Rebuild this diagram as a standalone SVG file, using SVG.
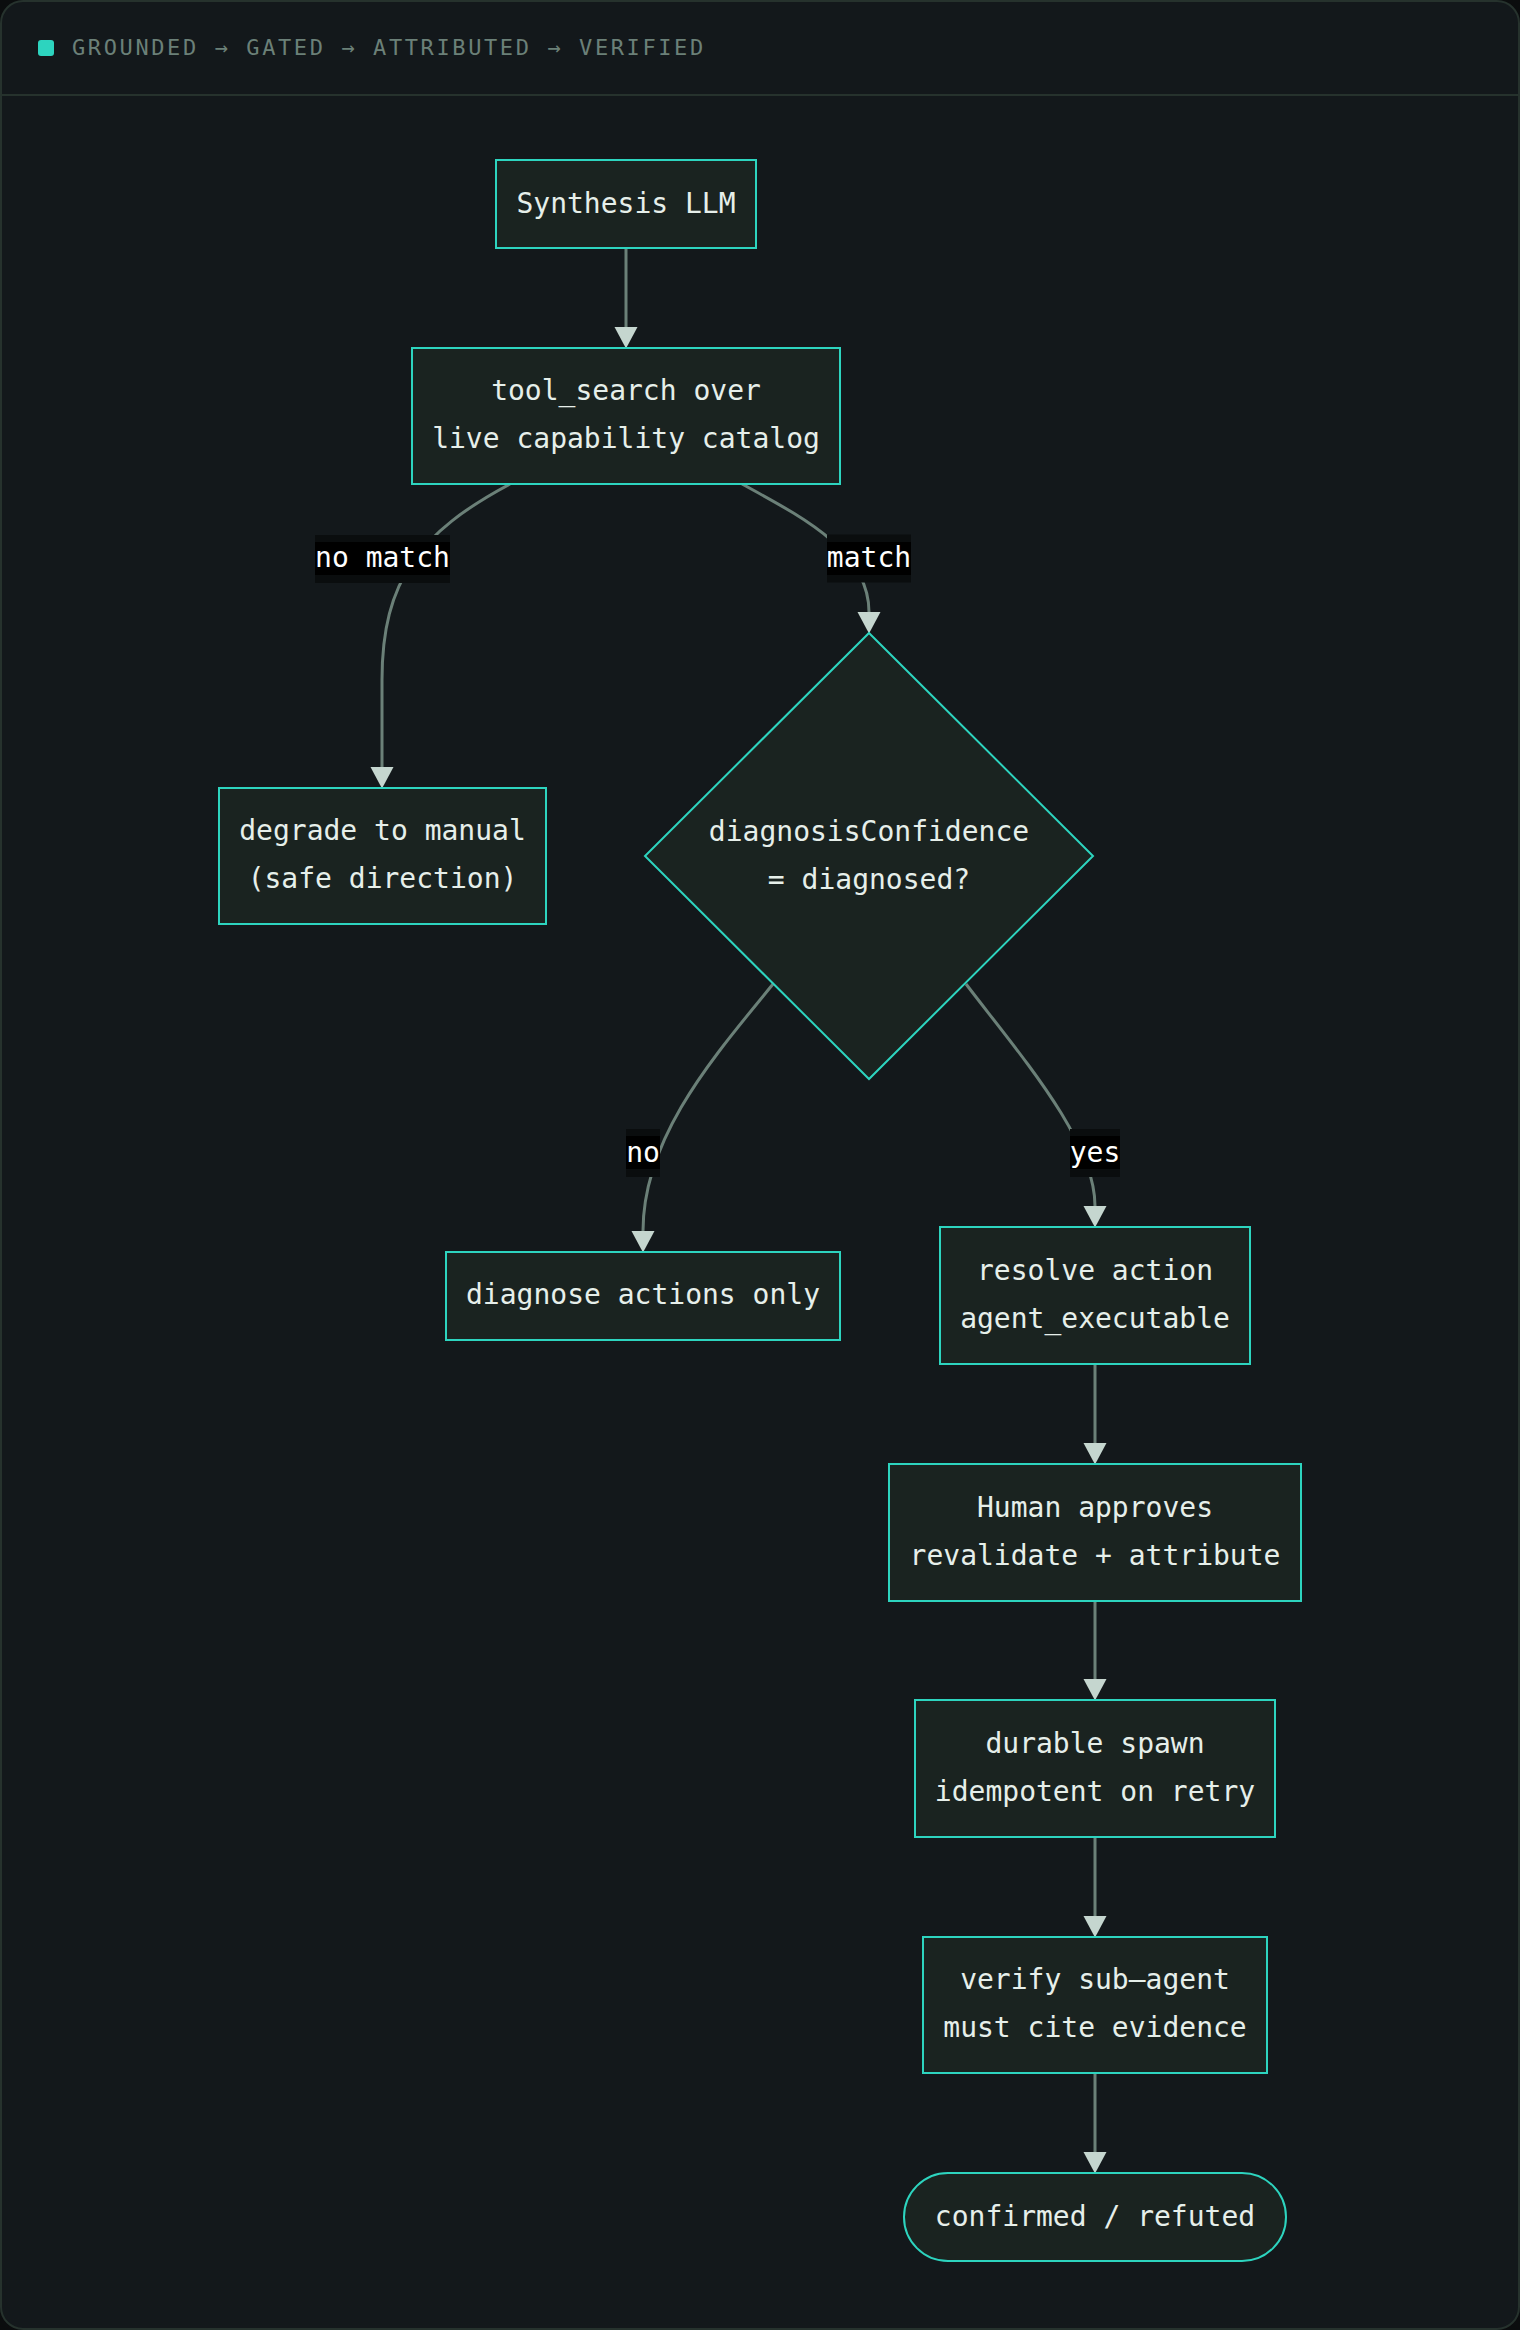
<svg xmlns="http://www.w3.org/2000/svg" width="1520" height="2330" viewBox="0 0 1520 2330">
  <style>
    .node { fill: #1a2320; stroke: #2dd4bf; stroke-width: 2; }
    .ntext { font-family: "DejaVu Sans Mono", "Liberation Mono", monospace; font-size: 28px; fill: #e6efea; text-anchor: middle; }
    .edge { fill: none; stroke: #6b8078; stroke-width: 3; }
    .lbg { fill: #0a0d0e; }
    .lin { fill: #000000; }
    .ltext { font-family: "DejaVu Sans Mono", "Liberation Mono", monospace; font-size: 28px; fill: #ffffff; text-anchor: middle; }
    .hdr { font-family: "DejaVu Sans Mono", "Liberation Mono", monospace; font-size: 22px; fill: #6b8078; letter-spacing: 2.6px; }
  </style>
  <defs>
    <marker id="arrow" markerUnits="userSpaceOnUse" markerWidth="22" markerHeight="24" refX="0" refY="12" orient="auto" viewBox="0 0 22 24">
      <path d="M0,0.5 L21.5,12 L0,23.5 Z" fill="#c5d6cf"/>
    </marker>
  </defs>

  <rect x="0" y="0" width="1520" height="2330" fill="#0b0d0e"/>
  <rect x="1" y="1" width="1518" height="2328" rx="22" fill="#13181b" stroke="#26322d" stroke-width="2"/>
  <line x1="1" y1="95" x2="1519" y2="95" stroke="#26322d" stroke-width="2"/>
  <g id="header">
    <rect x="38" y="40" width="16" height="16" rx="3" fill="#2dd4bf"/>
    <text class="hdr" x="72" y="55">GROUNDED → GATED → ATTRIBUTED → VERIFIED</text>
  </g>

  <g id="connectors">
    <path class="edge" d="M626,248 L626,327" marker-end="url(#arrow)"/>
    <path class="edge" d="M510,484 C420,532 382,580 382,680 L382,767" marker-end="url(#arrow)"/>
    <path class="edge" d="M742,484 C800,516 869,550 869,612" marker-end="url(#arrow)"/>
    <path class="edge" d="M773,984 C718,1052 643,1135 643,1231" marker-end="url(#arrow)"/>
    <path class="edge" d="M966,984 C1020,1055 1095,1140 1095,1206" marker-end="url(#arrow)"/>
    <path class="edge" d="M1095,1364 L1095,1443" marker-end="url(#arrow)"/>
    <path class="edge" d="M1095,1601 L1095,1679" marker-end="url(#arrow)"/>
    <path class="edge" d="M1095,1837 L1095,1916" marker-end="url(#arrow)"/>
    <path class="edge" d="M1095,2073 L1095,2152" marker-end="url(#arrow)"/>

    <g id="label-nomatch">
      <rect class="lbg" x="315" y="535" width="135" height="48"/>
      <rect class="lin" x="315" y="542" width="135" height="33"/>
      <text class="ltext" x="382.5" y="567">no match</text>
    </g>
    <g id="label-match">
      <rect class="lbg" x="827" y="534.5" width="84" height="48"/>
      <rect class="lin" x="827" y="542" width="84" height="33"/>
      <text class="ltext" x="869" y="567">match</text>
    </g>
    <g id="label-no">
      <rect class="lbg" x="626" y="1129" width="34" height="48"/>
      <rect class="lin" x="626" y="1136" width="34" height="33"/>
      <text class="ltext" x="643" y="1162">no</text>
    </g>
    <g id="label-yes">
      <rect class="lbg" x="1070" y="1129" width="50" height="48"/>
      <rect class="lin" x="1070" y="1136" width="50" height="33"/>
      <text class="ltext" x="1095" y="1162">yes</text>
    </g>
  </g>

  <g id="synthesis">
    <rect class="node" x="496" y="160" width="260" height="88"/>
    <text class="ntext" x="626" y="213">Synthesis LLM</text>
  </g>
  <g id="tool-search">
    <rect class="node" x="412" y="348" width="428" height="136"/>
    <text class="ntext" x="626" y="400">tool_search over</text>
    <text class="ntext" x="626" y="448">live capability catalog</text>
  </g>
  <g id="degrade">
    <rect class="node" x="219" y="788" width="327" height="136"/>
    <text class="ntext" x="382.5" y="840">degrade to manual</text>
    <text class="ntext" x="382.5" y="888">(safe direction)</text>
  </g>
  <g id="decision">
    <polygon class="node" points="869,633 1093,856 869,1079 645,856" stroke-width="1.6"/>
    <text class="ntext" x="869" y="841">diagnosisConfidence</text>
    <text class="ntext" x="869" y="889">= diagnosed?</text>
  </g>
  <g id="diagnose-only">
    <rect class="node" x="446" y="1252" width="394" height="88"/>
    <text class="ntext" x="643" y="1304">diagnose actions only</text>
  </g>
  <g id="resolve">
    <rect class="node" x="940" y="1227" width="310" height="137"/>
    <text class="ntext" x="1095" y="1280">resolve action</text>
    <text class="ntext" x="1095" y="1328">agent_executable</text>
  </g>
  <g id="human">
    <rect class="node" x="889" y="1464" width="412" height="137"/>
    <text class="ntext" x="1095" y="1517">Human approves</text>
    <text class="ntext" x="1095" y="1565">revalidate + attribute</text>
  </g>
  <g id="durable">
    <rect class="node" x="915" y="1700" width="360" height="137"/>
    <text class="ntext" x="1095" y="1753">durable spawn</text>
    <text class="ntext" x="1095" y="1801">idempotent on retry</text>
  </g>
  <g id="verify">
    <rect class="node" x="923" y="1937" width="344" height="136"/>
    <text class="ntext" x="1095" y="1989">verify sub–agent</text>
    <text class="ntext" x="1095" y="2037">must cite evidence</text>
  </g>
  <g id="confirmed">
    <rect class="node" x="904" y="2173" width="382" height="88" rx="44"/>
    <text class="ntext" x="1095" y="2226">confirmed / refuted</text>
  </g>
</svg>
